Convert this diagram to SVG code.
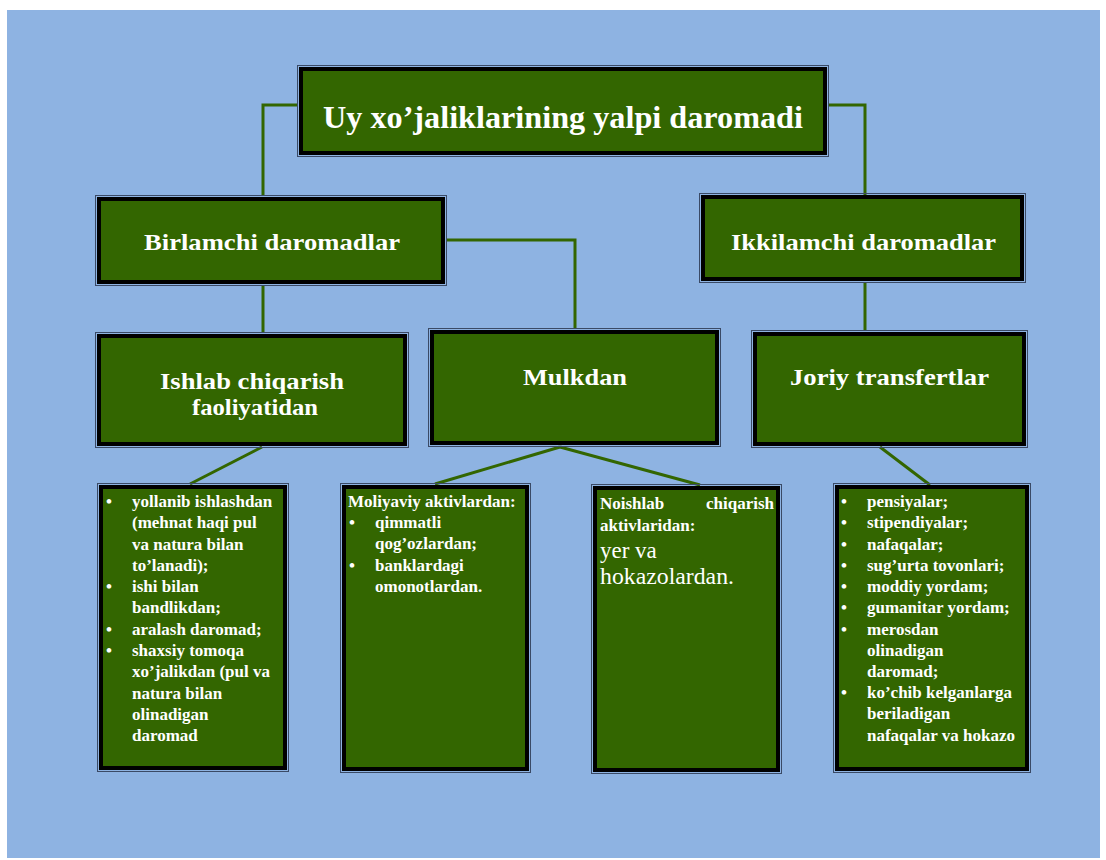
<svg xmlns="http://www.w3.org/2000/svg" width="1106" height="860" viewBox="0 0 1106 860">
<style>
.outer{fill:none;stroke:#3a4a66;stroke-width:1}
.box{fill:#336600;stroke:#000;stroke-width:4}
.t{font-family:"Liberation Serif","Times New Roman",serif;font-weight:bold;fill:#fff}
.h1{font-size:31px}
.h2{font-size:23px}
.s{font-size:17px}
.c{stroke:#336600;stroke-width:3;fill:none}
</style>
<rect x="0" y="0" width="1106" height="860" fill="#fff"/>
<rect x="7" y="10" width="1093" height="848" fill="#8eb3e2"/>
<g id="connectors">
<polyline class="c" points="297,105 263,105 263,195"/>
<polyline class="c" points="829,105 865,105 865,195"/>
<polyline class="c" points="447,240 575,240 575,328"/>
<line class="c" x1="263" y1="285" x2="263" y2="332"/>
<line class="c" x1="865" y1="282" x2="865" y2="330"/>
<line class="c" x1="262" y1="447" x2="190" y2="484"/>
<line class="c" x1="560" y1="447" x2="435" y2="484"/>
<line class="c" x1="560" y1="447" x2="700" y2="485"/>
<line class="c" x1="880" y1="447" x2="930" y2="485"/>
</g>
<g id="top">
<rect class="outer" x="297.5" y="65.5" width="531" height="91"/>
<rect class="box" x="301" y="69" width="524" height="84"/>
<text class="t h1" x="323" y="128" textLength="480" lengthAdjust="spacingAndGlyphs">Uy xo’jaliklarining yalpi daromadi</text>
</g>
<g id="birlamchi">
<rect class="outer" x="95.5" y="195.5" width="351" height="90"/>
<rect class="box" x="99" y="199" width="344" height="83"/>
<text class="t h2" x="144" y="250" textLength="256" lengthAdjust="spacingAndGlyphs">Birlamchi daromadlar</text>
</g>
<g id="ikkilamchi">
<rect class="outer" x="699.5" y="193.5" width="326" height="89"/>
<rect class="box" x="703" y="197" width="319" height="82"/>
<text class="t h2" x="731" y="250" textLength="265" lengthAdjust="spacingAndGlyphs">Ikkilamchi daromadlar</text>
</g>
<g id="ishlab">
<rect class="outer" x="95.5" y="332.5" width="313" height="115"/>
<rect class="box" x="99" y="336" width="306" height="108"/>
<text class="t h2" x="160" y="389" textLength="184" lengthAdjust="spacingAndGlyphs">Ishlab chiqarish</text>
<text class="t h2" x="192" y="415" textLength="126" lengthAdjust="spacingAndGlyphs">faoliyatidan</text>
</g>
<g id="mulkdan">
<rect class="outer" x="428.5" y="328.5" width="292" height="118"/>
<rect class="box" x="432" y="332" width="285" height="111"/>
<text class="t h2" x="523" y="385" textLength="104" lengthAdjust="spacingAndGlyphs">Mulkdan</text>
</g>
<g id="joriy">
<rect class="outer" x="751.5" y="330.5" width="276" height="117"/>
<rect class="box" x="755" y="334" width="269" height="110"/>
<text class="t h2" x="790" y="385" textLength="199" lengthAdjust="spacingAndGlyphs">Joriy transfertlar</text>
</g>
<g id="b1">
<rect class="outer" x="97.5" y="483.5" width="191" height="288"/>
<rect class="box" x="101" y="487" width="184" height="281"/>
<g class="t s">
<text x="106" y="507">•</text><text x="132" y="507">yollanib ishlashdan</text>
<text x="132" y="528">(mehnat haqi pul</text>
<text x="132" y="550">va natura bilan</text>
<text x="132" y="571">to’lanadi);</text>
<text x="106" y="592">•</text><text x="132" y="592">ishi bilan</text>
<text x="132" y="613">bandlikdan;</text>
<text x="106" y="635">•</text><text x="132" y="635">aralash daromad;</text>
<text x="106" y="656">•</text><text x="132" y="656">shaxsiy tomoqa</text>
<text x="132" y="677">xo’jalikdan (pul va</text>
<text x="132" y="699">natura bilan</text>
<text x="132" y="720">olinadigan</text>
<text x="132" y="741">daromad</text>
</g>
</g>
<g id="b2">
<rect class="outer" x="340.5" y="483.5" width="190" height="289"/>
<rect class="box" x="344" y="487" width="183" height="282"/>
<g class="t s">
<text x="348" y="507">Moliyaviy aktivlardan:</text>
<text x="349" y="528">•</text><text x="375" y="528">qimmatli</text>
<text x="375" y="549">qog’ozlardan;</text>
<text x="349" y="571">•</text><text x="375" y="571">banklardagi</text>
<text x="375" y="592">omonotlardan.</text>
</g>
</g>
<g id="b3">
<rect class="outer" x="591.5" y="484.5" width="190" height="289"/>
<rect class="box" x="595" y="488" width="183" height="282"/>
<g class="t s">
<text x="600" y="509">Noishlab</text>
<text x="774" y="509" text-anchor="end">chiqarish</text>
<text x="600" y="531">aktivlaridan:</text>
</g>
<text class="t" style="font-weight:normal;font-size:23px" x="600" y="558">yer va</text>
<text class="t" style="font-weight:normal;font-size:23px" x="600" y="584" textLength="134" lengthAdjust="spacingAndGlyphs">hokazolardan.</text>
</g>
<g id="b4">
<rect class="outer" x="833.5" y="483.5" width="197" height="289"/>
<rect class="box" x="837" y="487" width="190" height="282"/>
<g class="t s">
<text x="841" y="507">•</text><text x="867" y="507">pensiyalar;</text>
<text x="841" y="528">•</text><text x="867" y="528">stipendiyalar;</text>
<text x="841" y="550">•</text><text x="867" y="550">nafaqalar;</text>
<text x="841" y="571">•</text><text x="867" y="571">sug’urta tovonlari;</text>
<text x="841" y="592">•</text><text x="867" y="592">moddiy yordam;</text>
<text x="841" y="613">•</text><text x="867" y="613">gumanitar yordam;</text>
<text x="841" y="635">•</text><text x="867" y="635">merosdan</text>
<text x="867" y="656">olinadigan</text>
<text x="867" y="677">daromad;</text>
<text x="841" y="698">•</text><text x="867" y="698">ko’chib kelganlarga</text>
<text x="867" y="719">beriladigan</text>
<text x="867" y="741">nafaqalar va hokazo</text>
</g>
</g>
</svg>
